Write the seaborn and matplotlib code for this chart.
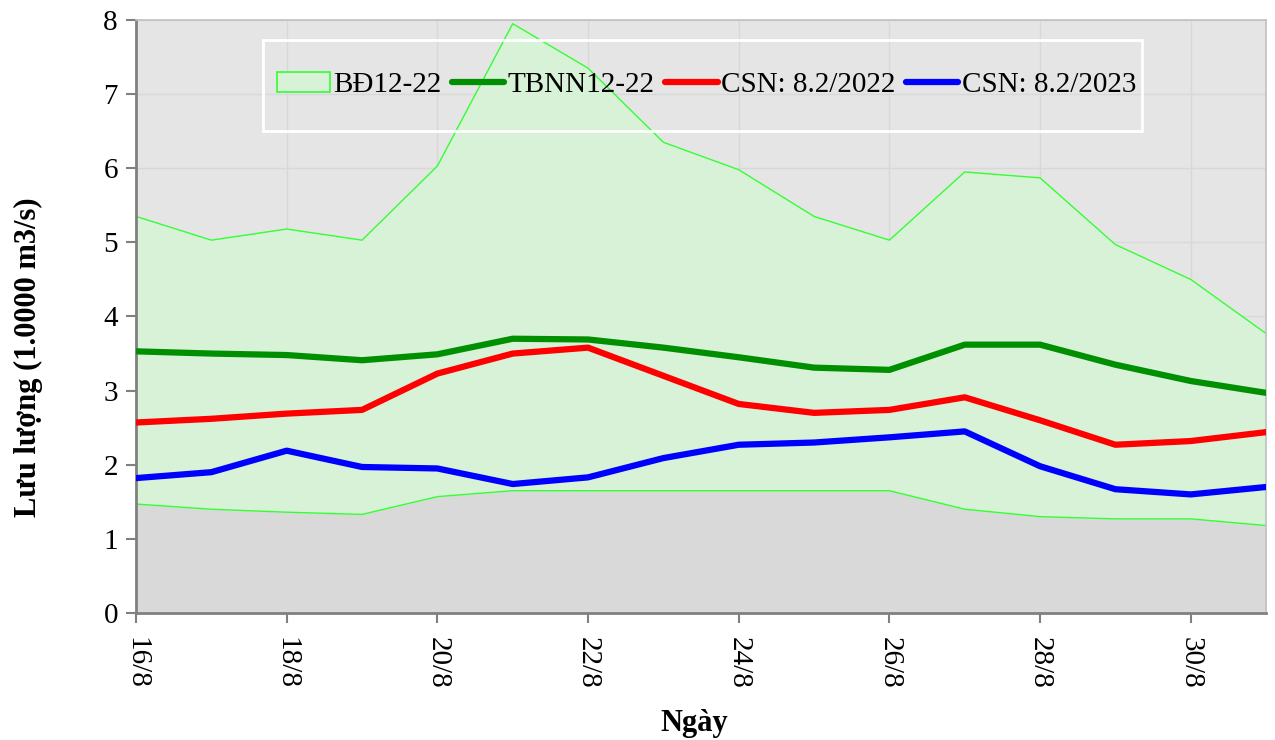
"""Lưu lượng chart: band BĐ12-22, TBNN and two CSN series."""

import matplotlib
matplotlib.use("Agg")
import matplotlib.pyplot as plt
import pandas as pd
import seaborn as sns
from matplotlib.patches import Patch, Rectangle
from matplotlib.lines import Line2D

days = list(range(16, 32))
tick_days = [16, 18, 20, 22, 24, 26, 28, 30]
tick_labels = ["16/8", "18/8", "20/8", "22/8", "24/8", "26/8", "28/8", "30/8"]

band_upper = [5.35, 5.03, 5.18, 5.03, 6.03, 7.95, 7.35, 6.35,
              5.98, 5.35, 5.03, 5.95, 5.87, 4.97, 4.50, 3.77]
band_lower = [1.47, 1.40, 1.36, 1.33, 1.57, 1.65, 1.65, 1.65,
              1.65, 1.65, 1.65, 1.40, 1.30, 1.27, 1.27, 1.18]
tbnn = [3.53, 3.50, 3.48, 3.41, 3.49, 3.70, 3.69, 3.58,
        3.45, 3.31, 3.28, 3.62, 3.62, 3.35, 3.13, 2.97]
csn_2022 = [2.57, 2.62, 2.69, 2.74, 3.23, 3.50, 3.58, 3.20,
            2.82, 2.70, 2.74, 2.91, 2.60, 2.27, 2.32, 2.44]
csn_2023 = [1.82, 1.90, 2.19, 1.97, 1.95, 1.74, 1.83, 2.09,
            2.27, 2.30, 2.37, 2.45, 1.98, 1.67, 1.60, 1.70]

series_names = ["TBNN12-22", "CSN: 8.2/2022", "CSN: 8.2/2023"]
series_colors = ["#008f00", "#ff0000", "#0000ff"]

sns.set_style("white")
plt.rcParams["font.family"] = ["Liberation Serif", "DejaVu Serif"]
plt.rcParams["text.color"] = "black"
plt.rcParams["axes.labelcolor"] = "black"
plt.rcParams["xtick.color"] = "black"
plt.rcParams["ytick.color"] = "black"

long_df = pd.DataFrame({
    "day": days * 3,
    "value": tbnn + csn_2022 + csn_2023,
    "series": sum([[n] * len(days) for n in series_names], []),
})

fig = plt.figure(figsize=(12.75, 7.40), dpi=100)
ax = fig.add_axes([0.1067, 0.1716, 0.8863, 0.8014])
ax.set_facecolor("#e5e5e5")

# darker area below the band, then the band itself
ax.fill_between(days, 0, band_lower, color="#d9d9d9", lw=0, zorder=1)
ax.fill_between(days, band_lower, band_upper, color="#d8f2d8", lw=0, zorder=1)
ax.plot(days, band_upper, color="#33ff33", lw=1, zorder=2)
ax.plot(days, band_lower, color="#33ff33", lw=1, zorder=2)

sns.lineplot(data=long_df, x="day", y="value", hue="series",
             palette=dict(zip(series_names, series_colors)),
             linewidth=4.5, legend=False, ax=ax, zorder=3)

ax.set_xlim(16, 31)
ax.set_ylim(0, 8)
ax.set_xticks(tick_days)
ax.set_xticklabels(tick_labels, rotation=-90, fontsize=21)
ax.set_yticks(range(0, 9))
ax.tick_params(axis="y", labelsize=21)
ax.tick_params(axis="x", pad=10)
ax.tick_params(axis="y", pad=6)
ax.tick_params(axis="both", direction="out", length=7, width=1.5,
               color="#808080", left=True, bottom=True)
ax.grid(True, color="#d8d8d8", lw=1, zorder=0)
ax.set_axisbelow(True)

for side in ["left", "bottom"]:
    ax.spines[side].set_color("#808080")
    ax.spines[side].set_linewidth(2)
for side in ["top", "right"]:
    ax.spines[side].set_color("#c0c0c0")
    ax.spines[side].set_linewidth(1.2)

ax.set_xlabel("Ngày", fontsize=22, fontweight="bold")
ax.xaxis.set_label_coords(0.494, -0.162)
ax.set_ylabel("Lưu lượng (1.0000 m3/s)", fontsize=22, fontweight="bold")
ax.yaxis.set_label_coords(-0.082, 0.432)

# legend frame drawn separately (wider than its content in the original)
ax.add_patch(Rectangle((0.112, 0.813), 0.778, 0.153, transform=ax.transAxes,
                       fill=False, edgecolor="white", lw=2, zorder=5))

handles = [Patch(facecolor="#d8f2d8", edgecolor="#33ff33", lw=1.2)]
handles += [Line2D([], [], color=c, lw=4.5, solid_capstyle="round")
            for c in series_colors]
labels = ["BĐ12-22"] + series_names
ax.legend(handles, labels, ncol=4, loc="center",
          bbox_to_anchor=(0.505, 0.890), fontsize=21, frameon=False,
          handlelength=1.8, handletextpad=0.12, columnspacing=0.35,
          borderpad=0, borderaxespad=0)

fig.savefig("out.png", dpi=100)
